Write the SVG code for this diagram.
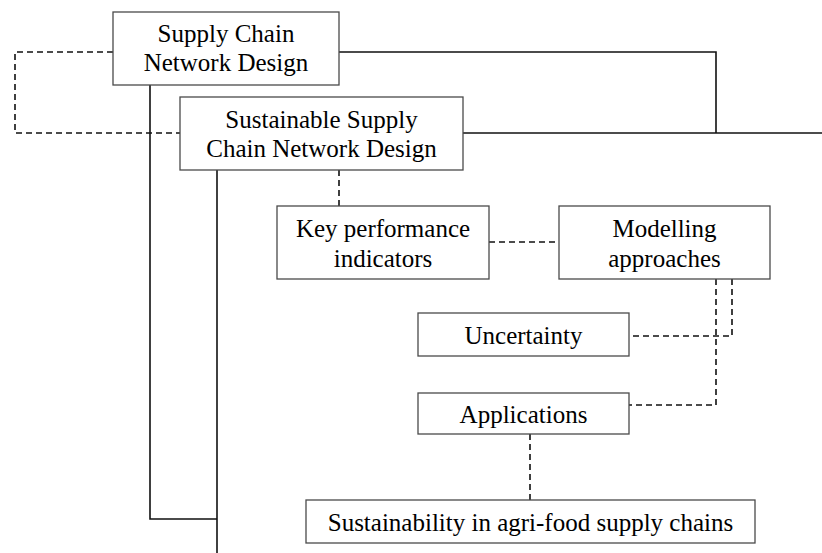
<svg xmlns="http://www.w3.org/2000/svg" width="822" height="553" viewBox="0 0 822 553">
<style>
.box{fill:#fff;stroke:#4a4a4a;stroke-width:1.3}
.t{font-family:"Liberation Serif","Times New Roman",serif;font-size:25px;fill:#000;text-anchor:middle}
.s{fill:none;stroke:#111;stroke-width:1.6}
.d{fill:none;stroke:#111;stroke-width:1.6;stroke-dasharray:6,4}
</style>
<rect width="822" height="553" fill="#fff"/>
<g id="connectors">
<path class="d" d="M113,52 H15 V133 H180"/>
<path class="s" d="M339,52 H716 V133"/>
<path class="s" d="M463,133 H822"/>
<path class="s" d="M150,85 V519 H217"/>
<path class="s" d="M217,170 V553"/>
<path class="d" d="M339,170 V206"/>
<path class="d" d="M489,242 H559"/>
<path class="d" d="M732,279 V336 H629"/>
<path class="d" d="M716,279 V405 H629"/>
<path class="d" d="M530,434 V500"/>
</g>
<g id="n1"><rect class="box" x="113" y="12" width="226" height="73"/><text class="t" x="226" y="42">Supply Chain</text><text class="t" x="226" y="71">Network Design</text></g>
<g id="n2"><rect class="box" x="180" y="97" width="283" height="73"/><text class="t" x="321.5" y="128">Sustainable Supply</text><text class="t" x="321.5" y="157">Chain Network Design</text></g>
<g id="n3"><rect class="box" x="277" y="206" width="212" height="73"/><text class="t" x="383" y="237">Key performance</text><text class="t" x="383" y="267">indicators</text></g>
<g id="n4"><rect class="box" x="559" y="206" width="211" height="73"/><text class="t" x="664.5" y="237">Modelling</text><text class="t" x="664.5" y="267">approaches</text></g>
<g id="n5"><rect class="box" x="418" y="313" width="211" height="43"/><text class="t" x="523.5" y="344">Uncertainty</text></g>
<g id="n6"><rect class="box" x="418" y="393" width="211" height="41"/><text class="t" x="523.5" y="423">Applications</text></g>
<g id="n7"><rect class="box" x="306" y="500" width="449" height="43"/><text class="t" x="530.5" y="531">Sustainability in agri-food supply chains</text></g>
</svg>
